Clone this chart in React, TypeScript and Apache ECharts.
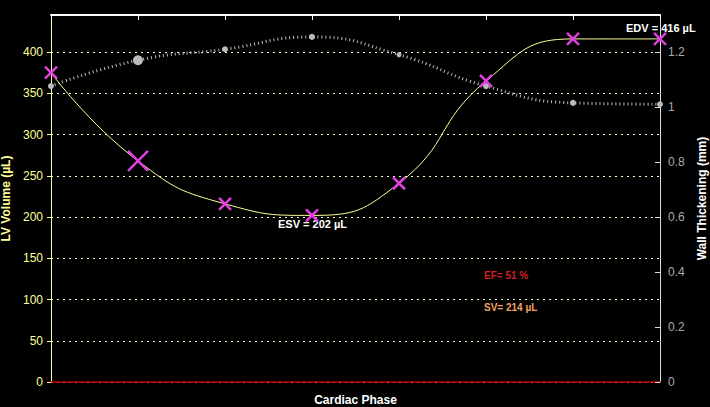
import * as echarts from "echarts";
import { useEffect, useRef } from "react";

const phases = ["1", "2", "3", "4", "5", "6", "7", "8"];
const lvVolume = [375, 268, 216, 202, 241, 365, 416, 416];
const wallThickening = [1.076, 1.17, 1.21, 1.255, 1.19, 1.076, 1.015, 1.01];
const wallSizes = [6, 10, 6, 6, 5, 6, 6, 6];
const xSizes = [12, 20, 12, 12, 12, 12, 12, 12];

const X_PATH = "path://M0,0L10,10M10,0L0,10";

export default function App() {
  const chartRef = useRef<HTMLDivElement>(null);
  useEffect(() => {
    const chart = echarts.init(chartRef.current, null, { renderer: "svg" });
    chart.setOption(getChartOption());
    return () => {
      chart.dispose();
    };
  }, []);

  return (
    <div
      ref={chartRef}
      style={{ position: "absolute", left: 0, top: 0, width: 710, height: 407, background: "#000" }}
    />
  );
}

function getChartOption() {
  const font = "Liberation Sans";
  return {
    animation: false,
    backgroundColor: "#000",
    textStyle: { fontFamily: font },
    grid: { left: 51, right: 50, top: 15, bottom: 25, containLabel: false, outerBoundsMode: "none" },
    xAxis: [
      {
        type: "category",
        data: phases,
        boundaryGap: false,
        position: "bottom",
        name: "Cardiac Phase",
        nameLocation: "middle",
        nameGap: 12,
        nameTextStyle: { color: "#fff", fontWeight: "bold", fontSize: 12 },
        axisLine: { onZero: false, lineStyle: { color: "#c00000", width: 1.5 } },
        axisTick: { show: false },
        axisLabel: { show: false },
      },
      {
        type: "category",
        data: phases,
        boundaryGap: false,
        position: "top",
        axisLine: { onZero: false, lineStyle: { color: "#fff", width: 2 } },
        axisTick: { inside: true, length: 5, lineStyle: { color: "#fff" } },
        axisLabel: { show: false },
      },
    ],
    yAxis: [
      {
        type: "value",
        min: 0,
        max: 445,
        interval: 50,
        name: "LV Volume (µL)",
        nameLocation: "middle",
        nameGap: 30,
        nameTextStyle: { color: "#ffff99", fontWeight: "bold", fontSize: 12 },
        axisLine: { show: true, lineStyle: { color: "#ffff99" } },
        axisTick: { show: true, length: 4 },
        axisLabel: { color: "#ffff99", fontSize: 12, showMaxLabel: false },
        splitLine: { show: true, lineStyle: { color: "#ffffcc", type: [2, 4] } },
      },
      {
        type: "value",
        min: 0,
        max: 1.3346,
        interval: 0.2,
        position: "right",
        name: "Wall Thickening (mm)",
        nameLocation: "middle",
        nameGap: 32,
        nameRotate: 90,
        nameTextStyle: { color: "#fff", fontWeight: "bold", fontSize: 12 },
        axisLine: { show: true, lineStyle: { color: "#ddd" } },
        axisTick: { show: true, length: 5, inside: true, lineStyle: { color: "#ddd" } },
        axisLabel: { color: "#aaa", fontSize: 12, showMaxLabel: false, formatter: (v: number) => String(+v.toFixed(1)) },
        splitLine: { show: false },
      },
    ],
    series: [
      {
        type: "line",
        yAxisIndex: 1,
        data: wallThickening,
        smooth: true,
        symbol: "circle",
        symbolSize: (_: number, p: any) => wallSizes[p.dataIndex],
        itemStyle: { color: "#bbb" },
        lineStyle: { color: "#bbb", width: 3, type: [1, 3] },
        z: 2,
      },
      {
        type: "line",
        data: lvVolume,
        smooth: true,
        symbol: X_PATH,
        symbolSize: (_: number, p: any) => xSizes[p.dataIndex],
        itemStyle: { color: "none", borderColor: "#e040e0", borderWidth: 2.5 },
        lineStyle: { color: "#ffff99", width: 1 },
        z: 3,
      },
    ],
    graphic: [
      { type: "text", left: 278, top: 218, style: { text: "ESV = 202 µL", fill: "#fff", font: `bold 11px ${font}` } },
      { type: "text", left: 626, top: 22, style: { text: "EDV = 416 µL", fill: "#fff", font: `bold 11px ${font}` } },
      { type: "text", left: 484, top: 270, style: { text: "EF= 51 %", fill: "#d02020", font: `bold 10px ${font}` } },
      { type: "text", left: 484, top: 302, style: { text: "SV= 214 µL", fill: "#f0a060", font: `bold 10px ${font}` } },
    ],
  };
}
